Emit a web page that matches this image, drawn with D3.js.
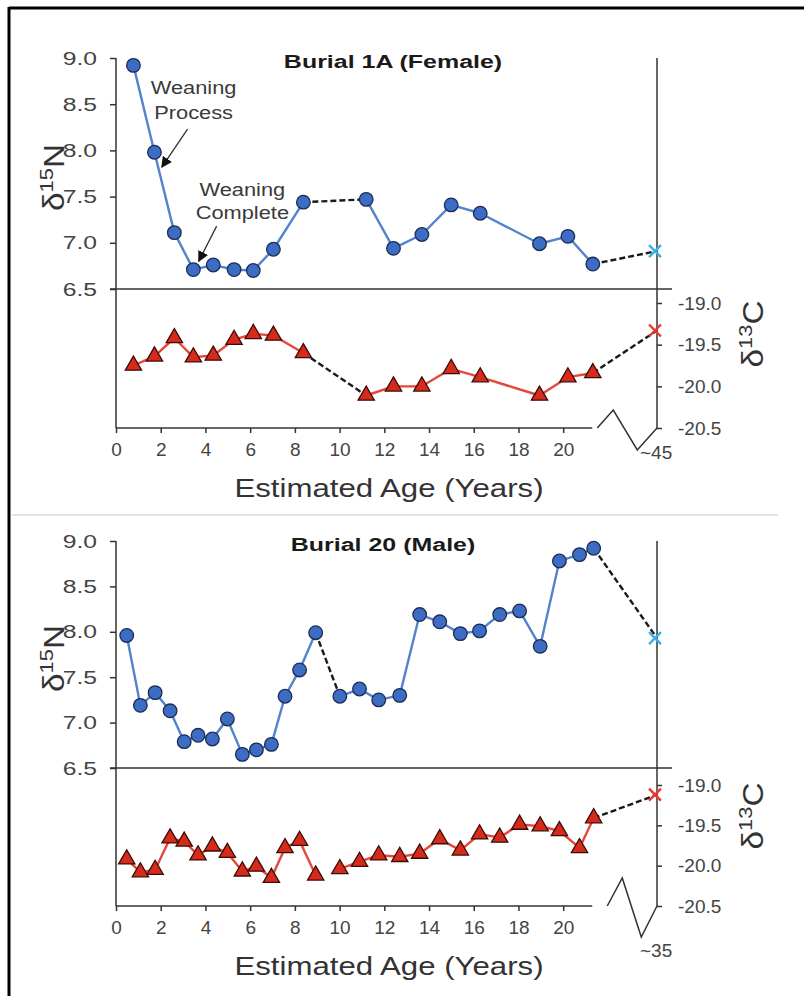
<!DOCTYPE html>
<html>
<head>
<meta charset="utf-8">
<script src="https://cdn.jsdelivr.net/npm/d3@7"></script>
<style>
  body { margin: 0; background: #fff; }
  svg { display: block; font-family: "Liberation Sans", Arial, sans-serif; }
</style>
</head>
<body>
<div id="chart"></div>
<script>
// ---- data: Burial 1A (Female) ----
const ageA = [0.78, 1.72, 2.61, 3.46, 4.35, 5.28, 6.14, 7.04, 8.38, 11.19, 12.41, 13.68, 14.99, 16.29, 18.94, 20.21, 21.5];
const n15A = [8.92, 7.98, 7.11, 6.71, 6.76, 6.71, 6.70, 6.93, 7.44, 7.47, 6.94, 7.09, 7.41, 7.32, 6.99, 7.07, 6.77];
const c13A = [-19.75, -19.64, -19.42, -19.65, -19.63, -19.44, -19.37, -19.39, -19.60, -20.11, -20.0, -20.0, -19.79, -19.89, -20.11, -19.89, -19.84];
const lateA = { age: 45, n15: 6.91, c13: -19.33, label: "~45" };
const dashN15A = [8];   // dashed link after this index
const gapC13A = [];
const dashC13A = [8];

// ---- data: Burial 20 (Male) ----
const ageB = [0.48, 1.09, 1.75, 2.42, 3.05, 3.67, 4.31, 4.98, 5.65, 6.28, 6.95, 7.56, 8.21, 8.93, 10.01, 10.89, 11.75, 12.69, 13.58, 14.48, 15.40, 16.26, 17.16, 18.05, 18.97, 19.83, 20.73, 21.6];
const n15B = [7.96, 7.19, 7.33, 7.13, 6.79, 6.86, 6.82, 7.04, 6.65, 6.70, 6.76, 7.29, 7.58, 7.99, 7.29, 7.37, 7.25, 7.30, 8.19, 8.11, 7.98, 8.01, 8.19, 8.23, 7.84, 8.78, 8.85, 8.92];
const c13B = [-19.92, -20.08, -20.05, -19.66, -19.70, -19.87, -19.76, -19.84, -20.07, -20.01, -20.15, -19.78, -19.69, -20.12, -20.04, -19.95, -19.87, -19.89, -19.85, -19.67, -19.81, -19.61, -19.65, -19.49, -19.51, -19.57, -19.78, -19.41];
const lateB = { age: 35, n15: 7.93, c13: -19.12, label: "~35" };
const dashN15B = [13];
const gapC13B = [13];
const dashC13B = [];

// ticks
const n15Ticks = [6.5, 7.0, 7.5, 8.0, 8.5, 9.0];
const c13Ticks = [-19.0, -19.5, -20.0, -20.5];
const ageTicks = [0, 2, 4, 6, 8, 10, 12, 14, 16, 18, 20];
const ageAxisEnd = 21.3;

// annotations (data units of panel A)
const notes = [
  { lines: ["Weaning", "Process"], tx: 3.47, ty: [8.68, 8.41], from: [3.2, 8.23], to: [2.05, 7.82] },
  { lines: ["Weaning", "Complete"], tx: 5.65, ty: [7.58, 7.33], from: [4.5, 7.18], to: [3.7, 6.8] }
];

const W = 804, H = 996;
const svg = d3.select("#chart").append("svg").attr("width", W).attr("height", H);

// frame
svg.append("line").attr("x1", 9).attr("x2", W).attr("y1", 8).attr("y2", 8).attr("stroke", "#000").attr("stroke-width", 3);
svg.append("line").attr("x1", 9).attr("x2", 9).attr("y1", 7).attr("y2", H).attr("stroke", "#000").attr("stroke-width", 3);
svg.append("line").attr("x1", 12).attr("x2", 778).attr("y1", 515).attr("y2", 515).attr("stroke", "#e2e2e2").attr("stroke-width", 2);

const axisCol = "#333", textCol = "#444";
const blueLine = "#5383cc", blueFill = "#3d6cc4", blueStroke = "#1c2d52";
const redLine = "#e5473a", redFill = "#d62a1d", redStroke = "#3c0b06";

// horizontally stretched text, like the source figure
function stext(g, x, y, txt, size, sx, anchor) {
  return g.append("text")
    .attr("transform", `translate(${x},${y}) scale(${sx},1)`)
    .attr("text-anchor", anchor || "middle")
    .style("font-size", size + "px")
    .text(txt);
}

function isoLabel(g, x, y, sup, el) {
  const t = g.append("text").attr("transform", `translate(${x},${y}) rotate(-90) scale(1.15,1)`)
    .attr("text-anchor", "middle").attr("fill", "#333").style("font-size", "29px");
  t.append("tspan").text("δ");
  t.append("tspan").attr("dy", -11).style("font-size", "19px").text(sup);
  t.append("tspan").attr("dy", 11).text(el);
}

function drawPanel(cfg) {
  const g = svg.append("g");
  const xL = 116, xR = 657;
  const x = d3.scaleLinear().domain([0, ageAxisEnd, cfg.late.age]).range([xL, xL + ageAxisEnd * 22.36, xR]);
  const yN = d3.scaleLinear().domain([9.0, 6.5]).range([cfg.yTop, cfg.ySplit]);
  const yC = d3.scaleLinear().domain([-19.0, -20.5]).range([cfg.yC19, cfg.yBot]);

  // axis frame lines
  g.append("line").attr("x1", xL).attr("x2", xL).attr("y1", cfg.yTop).attr("y2", cfg.yBot).attr("stroke", axisCol).attr("stroke-width", 1.5);
  g.append("line").attr("x1", xR).attr("x2", xR).attr("y1", cfg.yTop).attr("y2", cfg.yBot).attr("stroke", axisCol).attr("stroke-width", 1.5);
  g.append("line").attr("x1", xL - 6).attr("x2", xR + 15).attr("y1", cfg.ySplit).attr("y2", cfg.ySplit).attr("stroke", axisCol).attr("stroke-width", 1.5);
  g.append("line").attr("x1", xL).attr("x2", x(ageAxisEnd)).attr("y1", cfg.yBot).attr("y2", cfg.yBot).attr("stroke", axisCol).attr("stroke-width", 1.5);

  // axes
  const styleAxis = sel => {
    sel.select(".domain").remove();
    sel.selectAll(".tick line").attr("stroke", axisCol).attr("stroke-width", 1.5);
    sel.selectAll(".tick text").attr("fill", textCol).style("font-size", "19px");
  };
  g.append("g").attr("transform", `translate(${xL},0)`)
    .call(d3.axisLeft(yN).tickValues(n15Ticks).tickFormat(d => d.toFixed(1)).tickSize(6).tickPadding(13))
    .call(styleAxis)
    .call(sel => sel.selectAll(".tick text").each(function () {
      const t = d3.select(this), tx = +t.attr("x");
      t.attr("x", 0).attr("transform", `translate(${tx},0) scale(1.3,1)`);
    }));
  g.append("g").attr("transform", `translate(${xR},0)`)
    .call(d3.axisRight(yC).tickValues(c13Ticks).tickFormat(d => d.toFixed(1)).tickSize(5).tickPadding(16))
    .call(styleAxis);
  g.append("g").attr("transform", `translate(0,${cfg.yBot})`)
    .call(d3.axisBottom(x).tickValues(ageTicks).tickFormat(d3.format("d")).tickSize(5).tickPadding(10))
    .call(styleAxis);

  // axis break zigzag
  const z = cfg.zig;
  g.append("path")
    .attr("d", d3.line()([[x(ageAxisEnd) + z[0], cfg.yBot], [x(ageAxisEnd) + z[1], cfg.yBot - z[2]], [x(ageAxisEnd) + z[3], cfg.yBot + z[4]], [xR, cfg.yBot]]))
    .attr("fill", "none").attr("stroke", axisCol).attr("stroke-width", 1.5);
  g.append("text").attr("x", xR - 17).attr("y", cfg.yBot + z[5])
    .attr("fill", textCol).style("font-size", "19px").text(cfg.late.label);

  // labels
  stext(g, cfg.titleX, cfg.yTop + 10, cfg.title, 18.5, 1.35).attr("fill", "#1a1a1a").style("font-weight", "bold");
  stext(g, 389, cfg.yBot + 69, "Estimated Age (Years)", 26, 1.2).attr("fill", "#333");
  isoLabel(g, 64, (cfg.yTop + cfg.ySplit) / 2 + 4, "15", "N");
  isoLabel(g, 763, cfg.yC19 + 31, "13", "C");

  // series lines
  function runs(ages, vals, dash, gap) {
    const solid = [], dashed = [];
    let cur = [[ages[0], vals[0]]];
    for (let i = 0; i < ages.length - 1; i++) {
      const next = [ages[i + 1], vals[i + 1]];
      if (dash.includes(i) || gap.includes(i)) {
        solid.push(cur);
        if (dash.includes(i)) dashed.push([[ages[i], vals[i]], next]);
        cur = [next];
      } else cur.push(next);
    }
    solid.push(cur);
    return { solid, dashed };
  }
  function drawSeries(ages, vals, yS, dash, gap, lateVal, col) {
    const line = d3.line().x(d => x(d[0])).y(d => yS(d[1]));
    const r = runs(ages, vals, dash, gap);
    const last = ages.length - 1;
    r.dashed.push([[ages[last], vals[last]], [cfg.late.age, lateVal]]);
    g.selectAll(null).data(r.solid).enter().append("path")
      .attr("d", line).attr("fill", "none").attr("stroke", col).attr("stroke-width", 2.4).attr("stroke-linejoin", "round");
    g.selectAll(null).data(r.dashed).enter().append("path")
      .attr("d", line).attr("fill", "none").attr("stroke", "#1a1a1a").attr("stroke-width", 2.4).attr("stroke-dasharray", "6,3");
  }
  drawSeries(cfg.ages, cfg.n15, yN, cfg.dashN, [], cfg.late.n15, blueLine);
  drawSeries(cfg.ages, cfg.c13, yC, cfg.dashC, cfg.gapC, cfg.late.c13, redLine);

  // markers
  g.selectAll(null).data(d3.zip(cfg.ages, cfg.n15)).enter().append("circle")
    .attr("cx", d => x(d[0])).attr("cy", d => yN(d[1])).attr("r", 6.8)
    .attr("fill", blueFill).attr("stroke", blueStroke).attr("stroke-width", 1.3);
  const tri = d3.symbol(d3.symbolTriangle, 115);
  g.selectAll(null).data(d3.zip(cfg.ages, cfg.c13)).enter().append("path")
    .attr("d", tri).attr("transform", d => `translate(${x(d[0])},${yC(d[1])})`)
    .attr("fill", redFill).attr("stroke", redStroke).attr("stroke-width", 1.3);
  const cross = d3.symbol(d3.symbolX, 95);
  g.append("path").attr("d", cross).attr("transform", `translate(${x(cfg.late.age) - 2},${yN(cfg.late.n15)})`)
    .attr("fill", "none").attr("stroke", "#3daee6").attr("stroke-width", 2.4);
  g.append("path").attr("d", cross).attr("transform", `translate(${x(cfg.late.age) - 2},${yC(cfg.late.c13)})`)
    .attr("fill", "none").attr("stroke", "#e8392e").attr("stroke-width", 2.4);

  return { g, x, yN };
}

const pA = drawPanel({
  title: "Burial 1A (Female)", titleX: 393,
  yTop: 58, ySplit: 289, yC19: 303, yBot: 428,
  zig: [5, 21, 18, 45, 22, 31],
  ages: ageA, n15: n15A, c13: c13A, late: lateA,
  dashN: dashN15A, dashC: dashC13A, gapC: gapC13A
});
drawPanel({
  title: "Burial 20 (Male)", titleX: 383,
  yTop: 541, ySplit: 768, yC19: 785, yBot: 906,
  zig: [15, 30, 28, 49, 31, 51],
  ages: ageB, n15: n15B, c13: c13B, late: lateB,
  dashN: dashN15B, dashC: dashC13B, gapC: gapC13B
});

// annotations with arrows
const defs = svg.append("defs");
defs.append("marker").attr("id", "arr").attr("viewBox", "0 0 10 10").attr("refX", 9).attr("refY", 5)
  .attr("markerWidth", 11).attr("markerHeight", 11).attr("markerUnits", "userSpaceOnUse").attr("orient", "auto")
  .append("path").attr("d", "M0,0L10,5L0,10Z").attr("fill", "#111");
notes.forEach(n => {
  n.lines.forEach((t, i) => {
    stext(pA.g, pA.x(n.tx), pA.yN(n.ty[i]) + 6.5, t, 18.5, 1.18).attr("fill", "#3a3a3a");
  });
  pA.g.append("line")
    .attr("x1", pA.x(n.from[0])).attr("y1", pA.yN(n.from[1]))
    .attr("x2", pA.x(n.to[0])).attr("y2", pA.yN(n.to[1]))
    .attr("stroke", "#333").attr("stroke-width", 1.3).attr("marker-end", "url(#arr)");
});
</script>
</body>
</html>
